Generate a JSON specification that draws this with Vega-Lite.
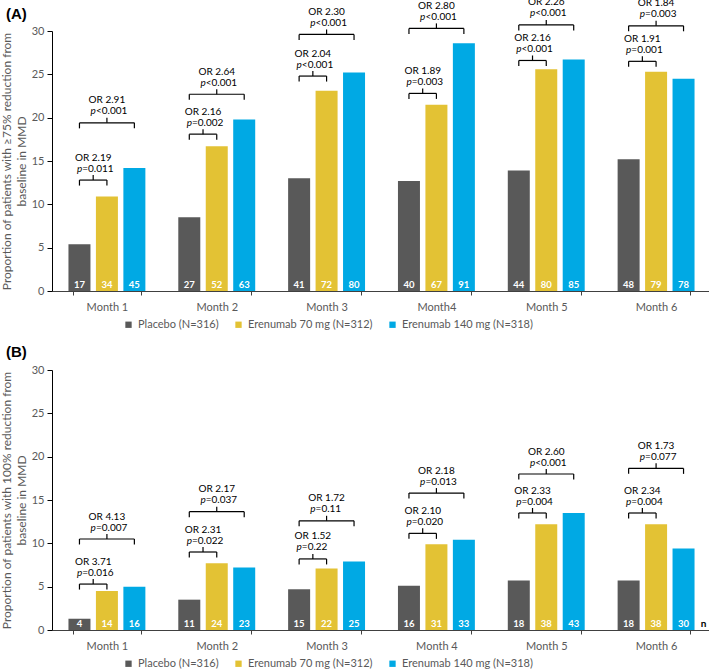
{
  "$schema": "https://vega.github.io/schema/vega-lite/v6.json",
  "padding": {"left": 0, "top": -3, "right": 0, "bottom": 0},
  "background": "white",
  "config": {
    "font": "Lato",
    "view": {"stroke": null},
    "axisY": {"domainColor": "#000000", "tickColor": "#000000", "tickSize": 5, "labelColor": "#595959", "labelFontSize": 11, "labelPadding": 3, "titleColor": "#595959", "titleFontSize": 12, "titleFontWeight": "normal", "titlePadding": 3, "titleLineHeight": 15, "grid": false},
    "axisX": {"domainColor": "#404040", "tickColor": "#404040", "tickSize": 4, "tickBand": "extent", "labelColor": "#595959", "labelFontSize": 11, "labelAngle": 0, "labelPadding": 6, "title": null, "grid": false},
    "legend": {"labelColor": "#595959", "labelFontSize": 11, "symbolType": "square", "symbolSize": 40, "symbolStrokeWidth": 0, "columnPadding": 14, "title": null},
    "title": {"font": "Liberation Sans", "fontSize": 15, "fontWeight": "bold", "anchor": "start", "frame": "group", "color": "#000000", "dx": -46}
  },
  "datasets": {
    "bars": [
      {"panel": "A", "month": "Month 1", "group": "Placebo (N=316)", "value": 5.4, "n": 17},
      {"panel": "A", "month": "Month 1", "group": "Erenumab 70 mg (N=312)", "value": 10.9, "n": 34},
      {"panel": "A", "month": "Month 1", "group": "Erenumab 140 mg (N=318)", "value": 14.2, "n": 45},
      {"panel": "A", "month": "Month 2", "group": "Placebo (N=316)", "value": 8.5, "n": 27},
      {"panel": "A", "month": "Month 2", "group": "Erenumab 70 mg (N=312)", "value": 16.7, "n": 52},
      {"panel": "A", "month": "Month 2", "group": "Erenumab 140 mg (N=318)", "value": 19.8, "n": 63},
      {"panel": "A", "month": "Month 3", "group": "Placebo (N=316)", "value": 13.0, "n": 41},
      {"panel": "A", "month": "Month 3", "group": "Erenumab 70 mg (N=312)", "value": 23.1, "n": 72},
      {"panel": "A", "month": "Month 3", "group": "Erenumab 140 mg (N=318)", "value": 25.2, "n": 80},
      {"panel": "A", "month": "Month4", "group": "Placebo (N=316)", "value": 12.7, "n": 40},
      {"panel": "A", "month": "Month4", "group": "Erenumab 70 mg (N=312)", "value": 21.5, "n": 67},
      {"panel": "A", "month": "Month4", "group": "Erenumab 140 mg (N=318)", "value": 28.6, "n": 91},
      {"panel": "A", "month": "Month 5", "group": "Placebo (N=316)", "value": 13.9, "n": 44},
      {"panel": "A", "month": "Month 5", "group": "Erenumab 70 mg (N=312)", "value": 25.6, "n": 80},
      {"panel": "A", "month": "Month 5", "group": "Erenumab 140 mg (N=318)", "value": 26.7, "n": 85},
      {"panel": "A", "month": "Month 6", "group": "Placebo (N=316)", "value": 15.2, "n": 48},
      {"panel": "A", "month": "Month 6", "group": "Erenumab 70 mg (N=312)", "value": 25.3, "n": 79},
      {"panel": "A", "month": "Month 6", "group": "Erenumab 140 mg (N=318)", "value": 24.5, "n": 78},
      {"panel": "B", "month": "Month 1", "group": "Placebo (N=316)", "value": 1.3, "n": 4},
      {"panel": "B", "month": "Month 1", "group": "Erenumab 70 mg (N=312)", "value": 4.5, "n": 14},
      {"panel": "B", "month": "Month 1", "group": "Erenumab 140 mg (N=318)", "value": 5.0, "n": 16},
      {"panel": "B", "month": "Month 2", "group": "Placebo (N=316)", "value": 3.5, "n": 11},
      {"panel": "B", "month": "Month 2", "group": "Erenumab 70 mg (N=312)", "value": 7.7, "n": 24},
      {"panel": "B", "month": "Month 2", "group": "Erenumab 140 mg (N=318)", "value": 7.2, "n": 23},
      {"panel": "B", "month": "Month 3", "group": "Placebo (N=316)", "value": 4.7, "n": 15},
      {"panel": "B", "month": "Month 3", "group": "Erenumab 70 mg (N=312)", "value": 7.1, "n": 22},
      {"panel": "B", "month": "Month 3", "group": "Erenumab 140 mg (N=318)", "value": 7.9, "n": 25},
      {"panel": "B", "month": "Month 4", "group": "Placebo (N=316)", "value": 5.1, "n": 16},
      {"panel": "B", "month": "Month 4", "group": "Erenumab 70 mg (N=312)", "value": 9.9, "n": 31},
      {"panel": "B", "month": "Month 4", "group": "Erenumab 140 mg (N=318)", "value": 10.4, "n": 33},
      {"panel": "B", "month": "Month 5", "group": "Placebo (N=316)", "value": 5.7, "n": 18},
      {"panel": "B", "month": "Month 5", "group": "Erenumab 70 mg (N=312)", "value": 12.2, "n": 38},
      {"panel": "B", "month": "Month 5", "group": "Erenumab 140 mg (N=318)", "value": 13.5, "n": 43},
      {"panel": "B", "month": "Month 6", "group": "Placebo (N=316)", "value": 5.7, "n": 18},
      {"panel": "B", "month": "Month 6", "group": "Erenumab 70 mg (N=312)", "value": 12.2, "n": 38},
      {"panel": "B", "month": "Month 6", "group": "Erenumab 140 mg (N=318)", "value": 9.4, "n": 30}
    ],
    "brackets": [
      {"panel": "A", "month": "Month 1", "br": "s", "from": "Placebo (N=316)", "to": "Erenumab 70 mg (N=312)", "mid": "g1", "level": 12.8, "or": "OR 2.19", "p": "=0.011"},
      {"panel": "A", "month": "Month 1", "br": "l", "from": "Placebo (N=316)", "to": "Erenumab 140 mg (N=318)", "mid": "Erenumab 70 mg (N=312)", "level": 19.4, "or": "OR 2.91", "p": "<0.001"},
      {"panel": "A", "month": "Month 2", "br": "s", "from": "Placebo (N=316)", "to": "Erenumab 70 mg (N=312)", "mid": "g1", "level": 18.1, "or": "OR 2.16", "p": "=0.002"},
      {"panel": "A", "month": "Month 2", "br": "l", "from": "Placebo (N=316)", "to": "Erenumab 140 mg (N=318)", "mid": "Erenumab 70 mg (N=312)", "level": 22.7, "or": "OR 2.64", "p": "<0.001"},
      {"panel": "A", "month": "Month 3", "br": "s", "from": "Placebo (N=316)", "to": "Erenumab 70 mg (N=312)", "mid": "g1", "level": 24.8, "or": "OR 2.04", "p": "<0.001"},
      {"panel": "A", "month": "Month 3", "br": "l", "from": "Placebo (N=316)", "to": "Erenumab 140 mg (N=318)", "mid": "Erenumab 70 mg (N=312)", "level": 29.6, "or": "OR 2.30", "p": "<0.001"},
      {"panel": "A", "month": "Month4", "br": "s", "from": "Placebo (N=316)", "to": "Erenumab 70 mg (N=312)", "mid": "g1", "level": 22.8, "or": "OR 1.89", "p": "=0.003"},
      {"panel": "A", "month": "Month4", "br": "l", "from": "Placebo (N=316)", "to": "Erenumab 140 mg (N=318)", "mid": "Erenumab 70 mg (N=312)", "level": 30.3, "or": "OR 2.80", "p": "<0.001"},
      {"panel": "A", "month": "Month 5", "br": "s", "from": "Placebo (N=316)", "to": "Erenumab 70 mg (N=312)", "mid": "g1", "level": 26.6, "or": "OR 2.16", "p": "<0.001"},
      {"panel": "A", "month": "Month 5", "br": "l", "from": "Placebo (N=316)", "to": "Erenumab 140 mg (N=318)", "mid": "Erenumab 70 mg (N=312)", "level": 30.7, "or": "OR 2.26", "p": "<0.001"},
      {"panel": "A", "month": "Month 6", "br": "s", "from": "Placebo (N=316)", "to": "Erenumab 70 mg (N=312)", "mid": "g1", "level": 26.5, "or": "OR 1.91", "p": "=0.001"},
      {"panel": "A", "month": "Month 6", "br": "l", "from": "Placebo (N=316)", "to": "Erenumab 140 mg (N=318)", "mid": "Erenumab 70 mg (N=312)", "level": 30.6, "or": "OR 1.84", "p": "=0.003"},
      {"panel": "B", "month": "Month 1", "br": "s", "from": "Placebo (N=316)", "to": "Erenumab 70 mg (N=312)", "mid": "g1", "level": 5.3, "or": "OR 3.71", "p": "=0.016"},
      {"panel": "B", "month": "Month 1", "br": "l", "from": "Placebo (N=316)", "to": "Erenumab 140 mg (N=318)", "mid": "Erenumab 70 mg (N=312)", "level": 10.5, "or": "OR 4.13", "p": "=0.007"},
      {"panel": "B", "month": "Month 2", "br": "s", "from": "Placebo (N=316)", "to": "Erenumab 70 mg (N=312)", "mid": "g1", "level": 9.0, "or": "OR 2.31", "p": "=0.022"},
      {"panel": "B", "month": "Month 2", "br": "l", "from": "Placebo (N=316)", "to": "Erenumab 140 mg (N=318)", "mid": "Erenumab 70 mg (N=312)", "level": 13.65, "or": "OR 2.17", "p": "=0.037"},
      {"panel": "B", "month": "Month 3", "br": "s", "from": "Placebo (N=316)", "to": "Erenumab 70 mg (N=312)", "mid": "g1", "level": 8.2, "or": "OR 1.52", "p": "=0.22"},
      {"panel": "B", "month": "Month 3", "br": "l", "from": "Placebo (N=316)", "to": "Erenumab 140 mg (N=318)", "mid": "Erenumab 70 mg (N=312)", "level": 12.6, "or": "OR 1.72", "p": "=0.11"},
      {"panel": "B", "month": "Month 4", "br": "s", "from": "Placebo (N=316)", "to": "Erenumab 70 mg (N=312)", "mid": "g1", "level": 11.15, "or": "OR 2.10", "p": "=0.020"},
      {"panel": "B", "month": "Month 4", "br": "l", "from": "Placebo (N=316)", "to": "Erenumab 140 mg (N=318)", "mid": "Erenumab 70 mg (N=312)", "level": 15.8, "or": "OR 2.18", "p": "=0.013"},
      {"panel": "B", "month": "Month 5", "br": "s", "from": "Placebo (N=316)", "to": "Erenumab 70 mg (N=312)", "mid": "g1", "level": 13.5, "or": "OR 2.33", "p": "=0.004"},
      {"panel": "B", "month": "Month 5", "br": "l", "from": "Placebo (N=316)", "to": "Erenumab 140 mg (N=318)", "mid": "Erenumab 70 mg (N=312)", "level": 18.0, "or": "OR 2.60", "p": "<0.001"},
      {"panel": "B", "month": "Month 6", "br": "s", "from": "Placebo (N=316)", "to": "Erenumab 70 mg (N=312)", "mid": "g1", "level": 13.5, "or": "OR 2.34", "p": "=0.004"},
      {"panel": "B", "month": "Month 6", "br": "l", "from": "Placebo (N=316)", "to": "Erenumab 140 mg (N=318)", "mid": "Erenumab 70 mg (N=312)", "level": 18.65, "or": "OR 1.73", "p": "=0.077"}
    ],
    "notes": [
      {"panel": "B", "month": "Month 6", "slot": "Erenumab 140 mg (N=318)", "label": "n"}
    ]
  },
  "resolve": {"scale": {"color": "independent"}, "legend": {"color": "independent"}},
  "spacing": 15,
  "vconcat": [
    {
      "title": {"text": "(A)", "offset": -25},
      "width": 659,
      "height": 260,
      "encoding": {
        "x": {"field": "month", "type": "nominal", "sort": null, "scale": {"paddingInner": 0.375, "paddingOuter": 0.1875}, "axis": {"title": null}},
        "y": {"type": "quantitative", "scale": {"domain": [0, 30], "nice": false}, "axis": {"values": [0, 5, 10, 15, 20, 25, 30], "title": ["Proportion of patients with \u226575%  reduction from", "baseline in MMD"]}}
      },
      "layer": [
        {
          "data": {"name": "bars"},
          "transform": [{"filter": "datum.panel === 'A'"}],
          "mark": {"type": "bar", "width": 22},
          "encoding": {
            "xOffset": {"field": "group", "type": "nominal", "scale": {"domain": ["Placebo (N=316)", "g1", "Erenumab 70 mg (N=312)", "g2", "Erenumab 140 mg (N=318)"], "paddingInner": 0, "paddingOuter": 0}},
            "y": {"field": "value", "type": "quantitative"},
            "color": {"field": "group", "type": "nominal", "scale": {"domain": ["Placebo (N=316)", "Erenumab 70 mg (N=312)", "Erenumab 140 mg (N=318)"], "range": ["#595959", "#E3C234", "#00A9E4"]}, "legend": {"orient": "none", "direction": "horizontal", "legendX": 71, "legendY": 288}}
          }
        },
        {
          "data": {"name": "bars"},
          "transform": [{"filter": "datum.panel === 'A'"}],
          "mark": {"type": "text", "color": "white", "fontWeight": "bold", "fontSize": 9.5, "baseline": "middle", "dy": -6},
          "encoding": {
            "xOffset": {"field": "group", "type": "nominal"},
            "y": {"datum": 0, "type": "quantitative"},
            "text": {"field": "n", "type": "nominal"}
          }
        },
        {
          "data": {"name": "brackets"},
          "transform": [{"filter": "datum.panel === 'A'"}, {"fold": ["from", "to"], "as": ["end", "slot"]}],
          "mark": {"type": "line", "color": "#000000", "strokeWidth": 1.2},
          "encoding": {
            "xOffset": {"field": "slot", "type": "nominal"},
            "y": {"field": "level", "type": "quantitative"},
            "detail": [{"field": "month"}, {"field": "br"}]
          }
        },
        {
          "data": {"name": "brackets"},
          "transform": [{"filter": "datum.panel === 'A'"}, {"fold": ["from", "to"], "as": ["end", "slot"]}],
          "mark": {"type": "rule", "color": "#000000", "strokeWidth": 1.2, "y2Offset": 5.5},
          "encoding": {
            "xOffset": {"field": "slot", "type": "nominal"},
            "y": {"field": "level", "type": "quantitative"},
            "y2": {"field": "level"}
          }
        },
        {
          "data": {"name": "brackets"},
          "transform": [{"filter": "datum.panel === 'A'"}],
          "mark": {"type": "rule", "color": "#000000", "strokeWidth": 1.2, "y2Offset": -5},
          "encoding": {
            "xOffset": {"field": "mid", "type": "nominal"},
            "y": {"field": "level", "type": "quantitative"},
            "y2": {"field": "level"}
          }
        },
        {
          "data": {"name": "brackets"},
          "transform": [{"filter": "datum.panel === 'A'"}],
          "mark": {"type": "text", "color": "#000000", "fontSize": 10, "baseline": "middle", "dy": -22.5},
          "encoding": {
            "xOffset": {"field": "mid", "type": "nominal"},
            "y": {"field": "level", "type": "quantitative"},
            "text": {"field": "or"}
          }
        },
        {
          "data": {"name": "brackets"},
          "transform": [{"filter": "datum.panel === 'A'"}],
          "mark": {"type": "text", "color": "#000000", "fontSize": 10, "fontStyle": "italic", "baseline": "middle", "align": "right", "dy": -11.5, "dx": -11},
          "encoding": {
            "xOffset": {"field": "mid", "type": "nominal"},
            "y": {"field": "level", "type": "quantitative"},
            "text": {"value": "p"}
          }
        },
        {
          "data": {"name": "brackets"},
          "transform": [{"filter": "datum.panel === 'A'"}],
          "mark": {"type": "text", "color": "#000000", "fontSize": 10, "baseline": "middle", "align": "left", "dy": -11.5, "dx": -11},
          "encoding": {
            "xOffset": {"field": "mid", "type": "nominal"},
            "y": {"field": "level", "type": "quantitative"},
            "text": {"field": "p"}
          }
        }
      ]
    },
    {
      "title": {"text": "(B)", "offset": 4},
      "width": 659,
      "height": 260,
      "encoding": {
        "x": {"field": "month", "type": "nominal", "sort": null, "scale": {"paddingInner": 0.375, "paddingOuter": 0.1875}, "axis": {"title": null}},
        "y": {"type": "quantitative", "scale": {"domain": [0, 30], "nice": false}, "axis": {"values": [0, 5, 10, 15, 20, 25, 30], "title": ["Proportion of patients with 100% reduction from", "baseline in MMD"]}}
      },
      "layer": [
        {
          "data": {"name": "bars"},
          "transform": [{"filter": "datum.panel === 'B'"}],
          "mark": {"type": "bar", "width": 22},
          "encoding": {
            "xOffset": {"field": "group", "type": "nominal", "scale": {"domain": ["Placebo (N=316)", "g1", "Erenumab 70 mg (N=312)", "g2", "Erenumab 140 mg (N=318)"], "paddingInner": 0, "paddingOuter": 0}},
            "y": {"field": "value", "type": "quantitative"},
            "color": {"field": "group", "type": "nominal", "scale": {"domain": ["Placebo (N=316)", "Erenumab 70 mg (N=312)", "Erenumab 140 mg (N=318)"], "range": ["#595959", "#E3C234", "#00A9E4"]}, "legend": {"orient": "none", "direction": "horizontal", "legendX": 71, "legendY": 288}}
          }
        },
        {
          "data": {"name": "bars"},
          "transform": [{"filter": "datum.panel === 'B'"}],
          "mark": {"type": "text", "color": "white", "fontWeight": "bold", "fontSize": 9.5, "baseline": "middle", "dy": -6},
          "encoding": {
            "xOffset": {"field": "group", "type": "nominal"},
            "y": {"datum": 0, "type": "quantitative"},
            "text": {"field": "n", "type": "nominal"}
          }
        },
        {
          "data": {"name": "notes"},
          "mark": {"type": "text", "color": "#000000", "fontWeight": "bold", "fontSize": 10, "baseline": "middle", "dy": -6, "dx": 20},
          "encoding": {
            "xOffset": {"field": "slot", "type": "nominal"},
            "y": {"datum": 0, "type": "quantitative"},
            "text": {"field": "label"}
          }
        },
        {
          "data": {"name": "brackets"},
          "transform": [{"filter": "datum.panel === 'B'"}, {"fold": ["from", "to"], "as": ["end", "slot"]}],
          "mark": {"type": "line", "color": "#000000", "strokeWidth": 1.2},
          "encoding": {
            "xOffset": {"field": "slot", "type": "nominal"},
            "y": {"field": "level", "type": "quantitative"},
            "detail": [{"field": "month"}, {"field": "br"}]
          }
        },
        {
          "data": {"name": "brackets"},
          "transform": [{"filter": "datum.panel === 'B'"}, {"fold": ["from", "to"], "as": ["end", "slot"]}],
          "mark": {"type": "rule", "color": "#000000", "strokeWidth": 1.2, "y2Offset": 5.5},
          "encoding": {
            "xOffset": {"field": "slot", "type": "nominal"},
            "y": {"field": "level", "type": "quantitative"},
            "y2": {"field": "level"}
          }
        },
        {
          "data": {"name": "brackets"},
          "transform": [{"filter": "datum.panel === 'B'"}],
          "mark": {"type": "rule", "color": "#000000", "strokeWidth": 1.2, "y2Offset": -5},
          "encoding": {
            "xOffset": {"field": "mid", "type": "nominal"},
            "y": {"field": "level", "type": "quantitative"},
            "y2": {"field": "level"}
          }
        },
        {
          "data": {"name": "brackets"},
          "transform": [{"filter": "datum.panel === 'B'"}],
          "mark": {"type": "text", "color": "#000000", "fontSize": 10, "baseline": "middle", "dy": -22.5},
          "encoding": {
            "xOffset": {"field": "mid", "type": "nominal"},
            "y": {"field": "level", "type": "quantitative"},
            "text": {"field": "or"}
          }
        },
        {
          "data": {"name": "brackets"},
          "transform": [{"filter": "datum.panel === 'B'"}],
          "mark": {"type": "text", "color": "#000000", "fontSize": 10, "fontStyle": "italic", "baseline": "middle", "align": "right", "dy": -11.5, "dx": -11},
          "encoding": {
            "xOffset": {"field": "mid", "type": "nominal"},
            "y": {"field": "level", "type": "quantitative"},
            "text": {"value": "p"}
          }
        },
        {
          "data": {"name": "brackets"},
          "transform": [{"filter": "datum.panel === 'B'"}],
          "mark": {"type": "text", "color": "#000000", "fontSize": 10, "baseline": "middle", "align": "left", "dy": -11.5, "dx": -11},
          "encoding": {
            "xOffset": {"field": "mid", "type": "nominal"},
            "y": {"field": "level", "type": "quantitative"},
            "text": {"field": "p"}
          }
        }
      ]
    }
  ]
}
